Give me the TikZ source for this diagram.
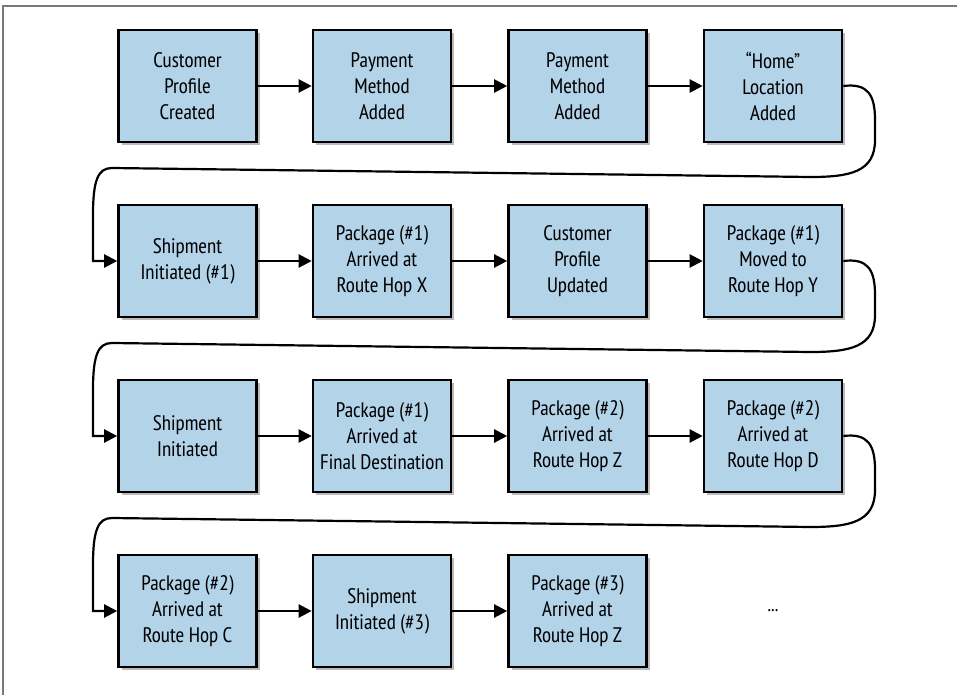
\documentclass[tikz,border=0pt]{standalone}
\usepackage{fontspec}
\setmainfont{PT Sans Narrow}
\usepackage{tikz}
\usetikzlibrary{arrows.meta,shadows}

\definecolor{boxblue}{RGB}{179,211,233}
\definecolor{framegray}{RGB}{120,120,120}

\tikzset{
  event/.style={draw=black, line width=2.6pt, fill=boxblue, minimum width=138pt, minimum height=112pt,
    align=center, font=\fontsize{21}{26}\selectfont, inner sep=0pt,
    drop shadow={shadow xshift=3pt, shadow yshift=-3pt, opacity=0.45, fill=black!60}},
  link/.style={line width=2.2pt, -{Triangle[length=13pt,width=13pt]}},
  wrap/.style={line width=2.2pt, -{Triangle[length=13pt,width=13pt]}, rounded corners=0pt}
}

\begin{document}
\begin{tikzpicture}[x=1pt, y=-1pt]
        \useasboundingbox (0, 0) rectangle (957, 695);
        \draw[framegray, line width=1.6pt] (3, 695) -- (3, 6) -- (957, 6);
        % row 1
        \path (187.5, 86) node[event](a1) {Customer\\Profile\\Created}
              (382, 86) node[event](a2) {Payment\\Method\\Added}
              (577.5, 86) node[event](a3) {Payment\\Method\\Added}
              (773, 86) node[event](a4) {“Home”\\Location\\Added};
        % row 2
        \path (187.5, 261) node[event](b1) {Shipment\\Initiated (\#1)}
              (382, 261) node[event](b2) {Package (\#1)\\Arrived at\\Route Hop X}
              (577.5, 261) node[event](b3) {Customer\\Profile\\Updated}
              (773, 261) node[event](b4) {Package (\#1)\\Moved to\\Route Hop Y};
        % row 3
        \path (187.5, 436) node[event](c1) {Shipment\\Initiated}
              (382, 436) node[event](c2) {Package (\#1)\\Arrived at\\Final Destination}
              (577.5, 436) node[event](c3) {Package (\#2)\\Arrived at\\Route Hop Z}
              (773, 436) node[event](c4) {Package (\#2)\\Arrived at\\Route Hop D};
        % row 4
        \path (187.5, 611) node[event](d1) {Package (\#2)\\Arrived at\\Route Hop C}
              (382, 611) node[event](d2) {Shipment\\Initiated (\#3)}
              (577.5, 611) node[event](d3) {Package (\#3)\\Arrived at\\Route Hop Z}
              (773, 611) node[font=\fontsize{20}{26}\selectfont](more) {...};

        \draw[link] (a1) -- (a2);
        \draw[link] (a2) -- (a3);
        \draw[link] (a3) -- (a4);
        \draw[link] (b1) -- (b2);
        \draw[link] (b2) -- (b3);
        \draw[link] (b3) -- (b4);
        \draw[link] (c1) -- (c2);
        \draw[link] (c2) -- (c3);
        \draw[link] (c3) -- (c4);
        \draw[link] (d1) -- (d2);
        \draw[link] (d2) -- (d3);

        % wrap round to the next row
        \draw[wrap] (a4.east) .. controls (868, 83) and (875, 95) .. (875, 120) -- (875, 140)
              .. controls (875, 172) and (850, 177) .. (810, 177) -- (112, 168)
              .. controls (98, 168) and (93, 180) .. (93, 215) |- (b1.west);
        \draw[wrap] (b4.east) .. controls (868, 258) and (875, 270) .. (875, 295) -- (875, 315)
              .. controls (875, 347) and (850, 352) .. (810, 352) -- (112, 343)
              .. controls (98, 343) and (93, 355) .. (93, 390) |- (c1.west);
        \draw[wrap] (c4.east) .. controls (868, 433) and (875, 445) .. (875, 470) -- (875, 490)
              .. controls (875, 522) and (850, 527) .. (810, 527) -- (112, 518)
              .. controls (98, 518) and (93, 530) .. (93, 565) |- (d1.west);
    \end{tikzpicture}
\end{document}
